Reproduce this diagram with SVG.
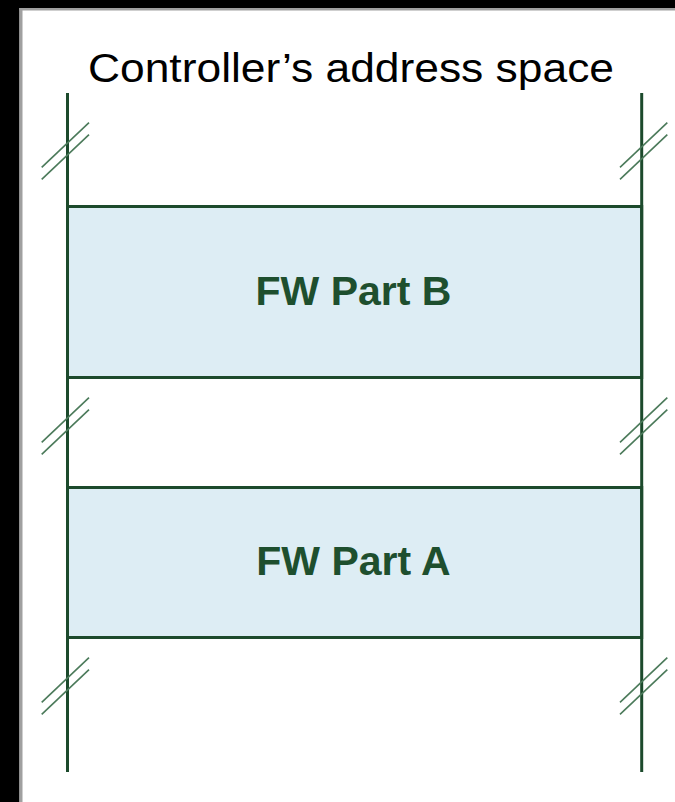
<svg xmlns="http://www.w3.org/2000/svg" width="675" height="802" viewBox="0 0 675 802">
  <style>
    .frame { fill: #000000; }
    .edge { fill: #a0a0a0; }
    .rail { stroke: #1c4a2c; stroke-width: 3; fill: none; }
    .region { fill: #ddedf4; stroke: #1c4a2c; stroke-width: 3; }
    .brk { stroke: #4b7a5a; stroke-width: 1.6; fill: none; }
    .title { font-family: "Liberation Sans", Arial, sans-serif; font-size: 40px; fill: #000000; }
    .label { font-family: "Liberation Sans", Arial, sans-serif; font-size: 41px; font-weight: bold; fill: #1e4f2e; text-anchor: middle; }
  </style>
  <defs>
    <g id="break-mark">
      <line class="brk" x1="0" y1="44.6" x2="47.3" y2="0"/>
      <line class="brk" x1="0" y1="56.6" x2="47.3" y2="12"/>
    </g>
  </defs>

  <!-- page background and dark border -->
  <rect x="0" y="0" width="675" height="802" fill="#ffffff"/>
  <rect class="frame" x="0" y="0" width="675" height="8"/>
  <rect class="frame" x="0" y="0" width="19.5" height="802"/>
  <rect class="edge" x="19.5" y="8" width="655.5" height="2.5"/>
  <rect class="edge" x="19.5" y="8" width="3" height="794"/>

  <text class="title" x="88" y="82" textLength="526" lengthAdjust="spacingAndGlyphs">Controller’s address space</text>

  <g id="region-fw-b">
    <rect class="region" x="67.5" y="206.5" width="574.2" height="171"/>
    <text class="label" x="353.5" y="305">FW Part B</text>
  </g>
  <g id="region-fw-a">
    <rect class="region" x="67.5" y="487.5" width="574.2" height="150"/>
    <text class="label" x="353.5" y="575">FW Part A</text>
  </g>

  <g id="connectors">
    <line class="rail" x1="67.5" y1="93" x2="67.5" y2="772"/>
    <line class="rail" x1="641.7" y1="93" x2="641.7" y2="772"/>
    <!-- discontinuity marks on both rails -->
    <use href="#break-mark" x="41.7" y="122.7"/>
    <use href="#break-mark" x="620" y="122.7"/>
    <use href="#break-mark" x="41.7" y="397.7"/>
    <use href="#break-mark" x="620" y="397.7"/>
    <use href="#break-mark" x="41.7" y="657.7"/>
    <use href="#break-mark" x="620" y="657.7"/>
  </g>
</svg>
